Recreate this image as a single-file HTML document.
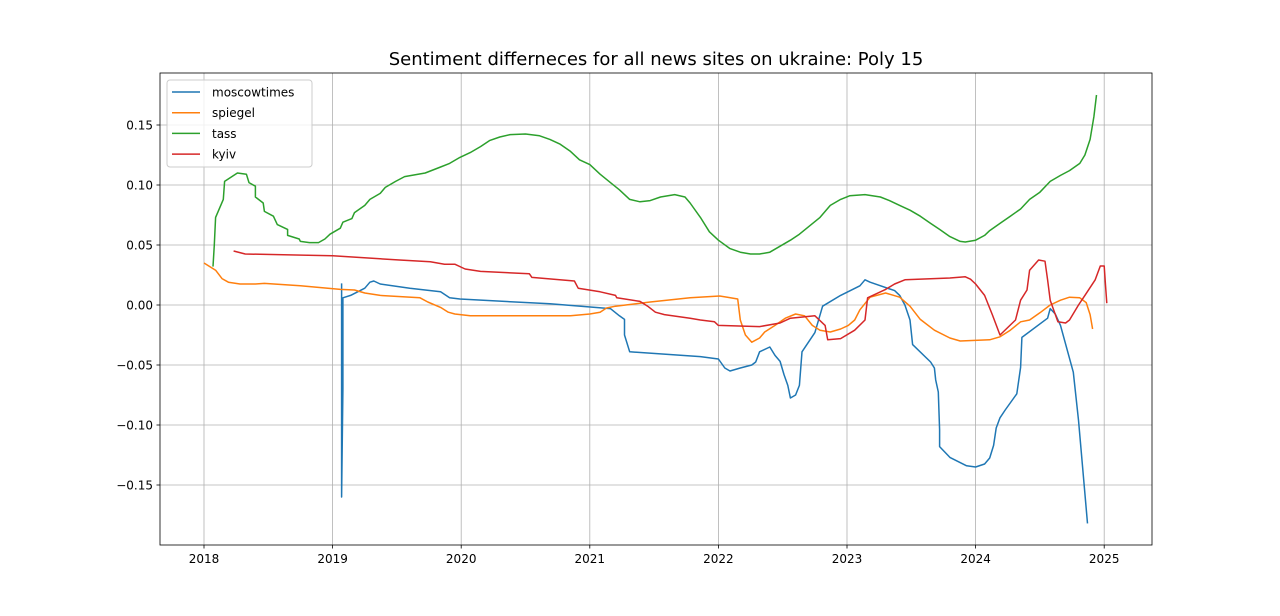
<!DOCTYPE html>
<html><head><meta charset="utf-8"><style>
body{margin:0;background:#fff;width:1280px;height:612px;overflow:hidden;font-family:"DejaVu Sans","Liberation Sans",sans-serif}
svg text{font-family:"DejaVu Sans","Liberation Sans",sans-serif}
</style></head><body>
<svg id="chart" width="1280" height="612" xmlns="http://www.w3.org/2000/svg">
<rect width="1280" height="612" fill="#fff"/>
<text x="656" y="65" font-size="18" text-anchor="middle" fill="#000">Sentiment differneces for all news sites on ukraine: Poly 15</text>
<g id="grid"></g><g id="series"></g><g id="axes"></g><g id="legend"></g>
</svg>
<script>
const xTicks=[2018,2019,2020,2021,2022,2023,2024,2025];
const yTicks=[-0.15,-0.10,-0.05,0.00,0.05,0.10,0.15];
const yTickLabels=["−0.15","−0.10","−0.05","0.00","0.05","0.10","0.15"];
const seriesNames=["moscowtimes","spiegel","tass","kyiv"];
const seriesColors=["#1f77b4","#ff7f0e","#2ca02c","#d62728"];
const mtDates=[2019.07,2019.07,2019.08,2019.08,2019.14,2019.25,2019.29,2019.32,2019.37,2019.60,2019.84,2019.91,2019.99,2020.69,2021.16,2021.23,2021.27,2021.27,2021.31,2021.86,2022.00,2022.05,2022.09,2022.17,2022.26,2022.29,2022.32,2022.40,2022.44,2022.48,2022.51,2022.54,2022.56,2022.60,2022.63,2022.65,2022.75,2022.81,2022.95,2023.10,2023.14,2023.18,2023.37,2023.41,2023.45,2023.49,2023.51,2023.65,2023.68,2023.69,2023.71,2023.72,2023.72,2023.80,2023.93,2024.00,2024.07,2024.11,2024.14,2024.16,2024.19,2024.23,2024.32,2024.35,2024.36,2024.56,2024.58,2024.62,2024.66,2024.76,2024.80,2024.87];
const mtValues=[0.018,-0.16,-0.07,0.006,0.008,0.014,0.019,0.020,0.0175,0.014,0.011,0.006,0.005,0.001,-0.003,-0.009,-0.012,-0.025,-0.039,-0.043,-0.045,-0.0525,-0.055,-0.0525,-0.050,-0.0475,-0.039,-0.035,-0.042,-0.047,-0.058,-0.067,-0.0775,-0.075,-0.067,-0.039,-0.023,-0.001,0.008,0.016,0.021,0.019,0.012,0.008,0.000,-0.0125,-0.033,-0.0475,-0.0525,-0.0625,-0.0725,-0.104,-0.118,-0.127,-0.134,-0.135,-0.1325,-0.1275,-0.117,-0.1025,-0.094,-0.0875,-0.074,-0.052,-0.027,-0.011,-0.003,-0.0075,-0.017,-0.056,-0.096,-0.182];
const spDates=[2018.00,2018.09,2018.14,2018.19,2018.28,2018.40,2018.47,2018.75,2019.06,2019.17,2019.25,2019.37,2019.68,2019.74,2019.84,2019.90,2019.95,2020.07,2020.85,2021.00,2021.08,2021.13,2021.20,2021.47,2021.78,2022.01,2022.07,2022.15,2022.17,2022.21,2022.26,2022.32,2022.36,2022.44,2022.52,2022.60,2022.67,2022.73,2022.79,2022.87,2022.95,2023.01,2023.06,2023.10,2023.18,2023.30,2023.41,2023.49,2023.57,2023.68,2023.80,2023.88,2024.11,2024.19,2024.27,2024.35,2024.42,2024.50,2024.58,2024.66,2024.73,2024.81,2024.86,2024.89,2024.91];
const spValues=[0.035,0.029,0.022,0.019,0.0175,0.0175,0.018,0.016,0.013,0.0125,0.010,0.008,0.006,0.0025,-0.002,-0.006,-0.0075,-0.009,-0.009,-0.0075,-0.006,-0.0025,-0.001,0.0025,0.006,0.0075,0.0065,0.005,-0.0125,-0.025,-0.031,-0.0275,-0.0225,-0.017,-0.011,-0.0075,-0.009,-0.017,-0.021,-0.0225,-0.020,-0.017,-0.0125,-0.004,0.0065,0.010,0.0065,-0.001,-0.012,-0.021,-0.0275,-0.030,-0.029,-0.0265,-0.021,-0.014,-0.0125,-0.0065,0.000,0.004,0.0065,0.006,0.002,-0.008,-0.020];
const tsDates=[2018.07,2018.08,2018.09,2018.15,2018.16,2018.26,2018.33,2018.35,2018.40,2018.40,2018.46,2018.47,2018.54,2018.57,2018.65,2018.65,2018.74,2018.75,2018.82,2018.89,2018.94,2018.98,2019.06,2019.08,2019.15,2019.17,2019.25,2019.29,2019.37,2019.41,2019.49,2019.56,2019.72,2019.84,2019.91,2019.99,2020.07,2020.15,2020.22,2020.30,2020.38,2020.50,2020.61,2020.69,2020.77,2020.85,2020.92,2021.00,2021.08,2021.16,2021.23,2021.31,2021.39,2021.47,2021.55,2021.66,2021.74,2021.78,2021.86,2021.93,2022.00,2022.09,2022.17,2022.25,2022.32,2022.40,2022.48,2022.56,2022.63,2022.71,2022.79,2022.87,2022.95,2023.02,2023.14,2023.26,2023.33,2023.41,2023.49,2023.57,2023.65,2023.72,2023.80,2023.88,2023.92,2024.00,2024.07,2024.11,2024.19,2024.27,2024.35,2024.42,2024.50,2024.58,2024.66,2024.73,2024.81,2024.85,2024.89,2024.92,2024.94];
const tsValues=[0.032,0.050,0.073,0.088,0.103,0.110,0.109,0.102,0.099,0.090,0.085,0.078,0.074,0.067,0.063,0.058,0.055,0.053,0.052,0.052,0.055,0.059,0.064,0.069,0.072,0.077,0.083,0.088,0.093,0.098,0.103,0.107,0.110,0.115,0.118,0.123,0.127,0.132,0.137,0.140,0.142,0.1425,0.141,0.138,0.134,0.128,0.121,0.117,0.109,0.102,0.096,0.088,0.086,0.087,0.090,0.092,0.090,0.085,0.073,0.061,0.054,0.047,0.044,0.0425,0.0425,0.044,0.049,0.054,0.059,0.066,0.073,0.083,0.088,0.091,0.092,0.090,0.087,0.083,0.079,0.074,0.068,0.063,0.057,0.053,0.0525,0.054,0.058,0.062,0.068,0.074,0.080,0.088,0.094,0.103,0.108,0.112,0.118,0.125,0.138,0.157,0.175];
const kyDates=[2018.23,2018.32,2019.00,2019.52,2019.76,2019.87,2019.95,2020.03,2020.15,2020.53,2020.55,2020.88,2020.91,2021.08,2021.20,2021.21,2021.39,2021.45,2021.51,2021.58,2021.78,2021.86,2021.97,2022.00,2022.32,2022.48,2022.56,2022.75,2022.83,2022.85,2022.95,2023.06,2023.14,2023.16,2023.30,2023.37,2023.45,2023.80,2023.92,2023.96,2024.00,2024.07,2024.13,2024.19,2024.31,2024.35,2024.40,2024.42,2024.49,2024.54,2024.56,2024.58,2024.64,2024.70,2024.73,2024.80,2024.85,2024.93,2024.97,2025.00,2025.01,2025.02];
const kyValues=[0.045,0.0425,0.041,0.0375,0.036,0.034,0.034,0.030,0.028,0.026,0.023,0.020,0.014,0.011,0.008,0.006,0.003,-0.001,-0.006,-0.008,-0.011,-0.0125,-0.014,-0.017,-0.018,-0.015,-0.011,-0.009,-0.017,-0.029,-0.028,-0.021,-0.0125,0.006,0.013,0.0175,0.021,0.0225,0.0235,0.0215,0.0175,0.008,-0.008,-0.025,-0.0125,0.004,0.0125,0.029,0.0375,0.0365,0.021,0.004,-0.014,-0.015,-0.0125,0.000,0.008,0.021,0.0325,0.0325,0.0165,0.0015];

const L=160,R=1152,T=73,B=545;
const xs=v=>204+(v-2018)*128.6;
const ys=v=>305-v*1200;
const NS="http://www.w3.org/2000/svg";
function mk(tag,attrs,parent){const e=document.createElementNS(NS,tag);for(const k in attrs)e.setAttribute(k,attrs[k]);parent.appendChild(e);return e;}
const grid=document.getElementById('grid'),axes=document.getElementById('axes'),ser=document.getElementById('series'),leg=document.getElementById('legend');
xTicks.forEach(t=>{const x=xs(t);
 const g=mk('line',{x1:x,x2:x,y1:T,y2:B,stroke:'#b0b0b0','stroke-width':0.8},grid);
 
 
 mk('line',{x1:x,x2:x,y1:B,y2:B+3.5,stroke:'#000','stroke-width':0.8},axes);
 const tx=mk('text',{x:x,y:B+18,'font-size':'12','text-anchor':'middle'},axes);tx.textContent=t;
 
 
});
yTicks.forEach((t,i)=>{const y=ys(t);
 const g=mk('line',{x1:L,x2:R,y1:y,y2:y,stroke:'#b0b0b0','stroke-width':0.8},grid);
 
 
 mk('line',{x1:L-3.5,x2:L,y1:y,y2:y,stroke:'#000','stroke-width':0.8},axes);
 const tx=mk('text',{x:L-7,y:y+4.5,'font-size':'12','text-anchor':'end'},axes);tx.textContent=yTickLabels[i];
 
 
});
const fr=mk('rect',{x:L,y:T,width:R-L,height:B-T,fill:'none',stroke:'#000','stroke-width':0.8},axes);


const data=[[mtDates,mtValues],[spDates,spValues],[tsDates,tsValues],[kyDates,kyValues]];
data.forEach((d,i)=>{
 const pts=d[0].map((x,j)=>xs(x).toFixed(1)+','+ys(d[1][j]).toFixed(1)).join(' ');
 const p=mk('polyline',{points:pts,fill:'none',stroke:seriesColors[i],'stroke-width':1.5,'stroke-linejoin':'round'},ser);
 
 
});
const lb=mk('rect',{x:167,y:80,width:145,height:87,rx:3,fill:'#fff','fill-opacity':0.8,stroke:'#ccc','stroke-width':1},leg);


seriesNames.forEach((n,i)=>{const y=92+i*20.7;
 const g=mk('g',{},leg);
 
 
 mk('line',{x1:172,x2:200,y1:y,y2:y,stroke:seriesColors[i],'stroke-width':1.5},g);
 const t=mk('text',{x:212,y:y+4.5,'font-size':'12'},g);t.textContent=n;
});
</script>
</body></html>
